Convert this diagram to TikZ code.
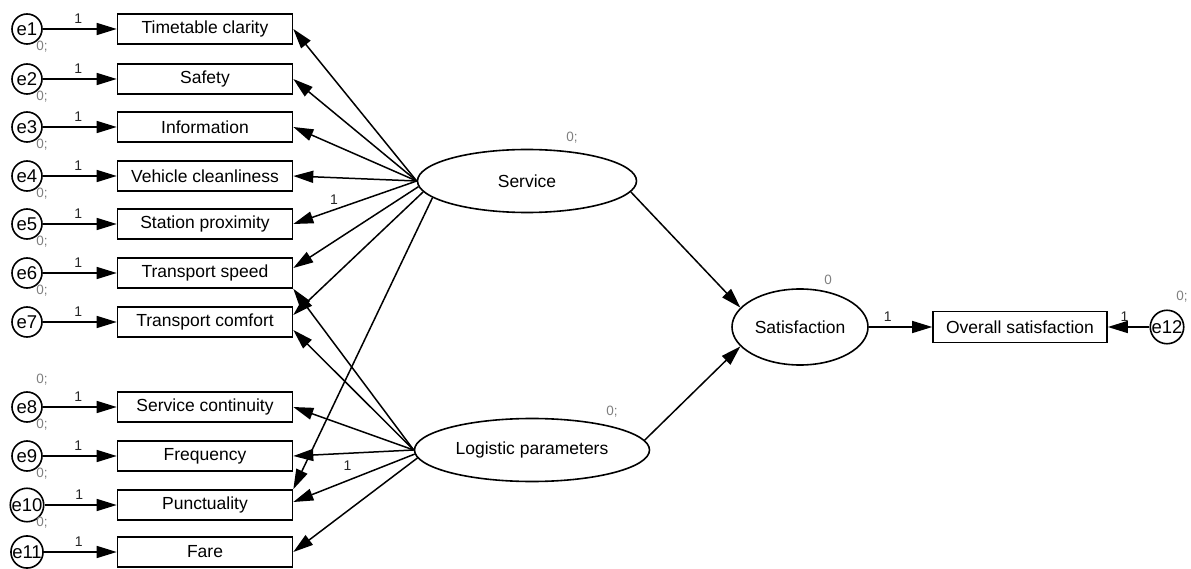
\documentclass[tikz,border=0pt]{standalone}
\usepackage{fontspec}
\setmainfont{Liberation Sans}
\usetikzlibrary{arrows.meta,calc,positioning,shapes.geometric}
\tikzset{ind/.style={draw,line width=1.6pt,minimum width=175pt,minimum height=30pt,inner sep=0pt,font=\fontsize{17.5}{20}\selectfont},
  err/.style={draw,circle,line width=1.6pt,minimum size=30pt,inner sep=0pt,font=\fontsize{18.5}{20}\selectfont},
  lat/.style={draw,ellipse,line width=1.6pt,inner sep=0pt,font=\fontsize{17.5}{20}\selectfont},
  arr/.style={-{Triangle[length=20pt,width=12pt]},line width=1.5pt},
  one/.style={font=\fontsize{14}{16}\selectfont,text=black!85,inner sep=0pt},
  var/.style={font=\fontsize{13.5}{16}\selectfont,text=gray,inner sep=0pt}}
\begin{document}
\begin{tikzpicture}[x=1pt,y=1pt]
\useasboundingbox (0,0) rectangle (1191,-569);
\foreach \i/\y/\t in {1/29/Timetable clarity,2/79/Safety,3/127/Information,4/176/Vehicle cleanliness,5/224/Station proximity,6/273/Transport speed,7/322/Transport comfort,8/407/Service continuity,9/456/Frequency,10/505/Punctuality,11/552/Fare}{
 \node[ind] (ind\i) at (205,-\y) {\t};
 \node[err] (e\i) at (27,-\y) {e\i};
 \draw[arr] (e\i) -- node[one,above=5pt,pos=0.48] {1} (ind\i);
}
\foreach \i in {1,...,6,8,9,10} \node[var] (v\i) at ($(e\i)+(15,-18)$) {0;};
\node[var] (v11) at ($(e8)+(15,27)$) {0;};

\node[lat,minimum width=219pt,minimum height=63pt] (svc) at (527,-181) {Service};
\node[lat,minimum width=235pt,minimum height=63pt] (lgp) at (532,-450) {Logistic parameters};
\node[lat,minimum width=136pt,minimum height=76pt] (sat) at (800,-327) {Satisfaction};
\node[ind,minimum width=174pt,minimum height=31pt] (ovr) at (1020,-327) {Overall satisfaction};
\node[err,minimum size=32pt] (e12) at (1167,-327) {e12};
\node[var] (svcv) at (572,-138) {0;};
\node[var] (lgpv) at (612,-412) {0;};
\node[var] (satv) at (828,-280) {0};
\node[var] (e12v) at (1182,-297) {0;};

\foreach \i in {1,...,4} \draw[arr] (svc.180) -- (ind\i.east);
\draw[arr] (svc.180) -- node[one,above=5pt,pos=0.67] {1} (ind5.east);
\draw[arr] (svc.183) -- ($(ind6.east)+(0,5)$);
\draw[arr] (svc.186) -- ($(ind7.east)+(0,7)$);
\draw[arr] (svc.190) -- (ind10.north east);

\draw[arr] (lgp.180) -- (ind6.south east);
\draw[arr] (lgp.180) -- ($(ind7.east)+(0,-8)$);
\draw[arr] (lgp.180) -- (ind8.east);
\draw[arr] (lgp.180) -- node[one,below=7pt,pos=0.55] {1} (ind9.east);
\draw[arr] (lgp.182) -- ($(ind10.east)+(0,3)$);
\draw[arr] (lgp.184) -- (ind11.east);

\draw[arr] (svc.354) -- (sat.162);
\draw[arr] (lgp.5) -- (sat.198);
\draw[arr] (sat) -- node[one,above=5pt,pos=0.3] {1} (ovr);
\draw[arr] (e12) -- node[one,above=5pt,pos=0.6] {1} (ovr);
\end{tikzpicture}
\end{document}
